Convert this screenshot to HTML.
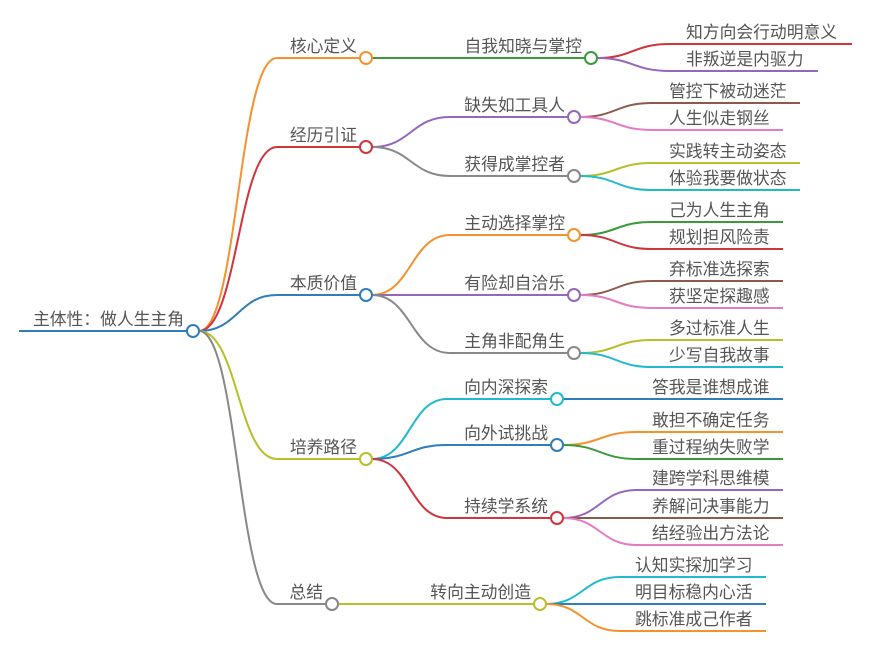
<!DOCTYPE html>
<html><head><meta charset="utf-8"><style>
body{margin:0;background:#fff;}
svg{display:block;}
text{font-family:"Liberation Sans","Noto Sans CJK SC",sans-serif;font-size:16.8px;fill:#555;}
path{fill:none;stroke-width:2;}
circle{fill:#fff;stroke-width:2;}
</style></head><body>
<svg width="871" height="655" viewBox="0 0 871 655">
<!-- root -->
<path d="M19 331 H187" stroke="#2f7dba" stroke-width="3"/>
<text x="184" y="325" text-anchor="end">主体性：做人生主角</text>
<!-- level1 -->
<path d="M199 331 C238 331 238 58 277 58 H360" stroke="#f5922f"/>
<path d="M199 331 C238 331 238 147 277 147 H360" stroke="#d0343c"/>
<path d="M199 331 C238 331 238 295 277 295 H360" stroke="#2f7dba"/>
<path d="M199 331 C238 331 238 459 277 459 H360" stroke="#b8bf2a"/>
<path d="M199 331 C238 331 238 604 277 604 H326" stroke="#888"/>
<circle cx="193" cy="331" r="6" stroke="#2f7dba"/>
<text x="357" y="52" text-anchor="end">核心定义</text>
<text x="357" y="141" text-anchor="end">经历引证</text>
<text x="357" y="289" text-anchor="end">本质价值</text>
<text x="357" y="453" text-anchor="end">培养路径</text>
<text x="323" y="598" text-anchor="end">总结</text>
<!-- level2 -->
<path d="M372 58 H585" stroke="#3a9a3a"/>
<path d="M372 147 C411 147 411 117 450 117 H568" stroke="#9467bd"/>
<path d="M372 147 C411 147 411 176 450 176 H568" stroke="#888"/>
<path d="M372 295 C411 295 411 235 450 235 H568" stroke="#f5922f"/>
<path d="M372 295 H568" stroke="#9467bd"/>
<path d="M372 295 C411 295 411 353 450 353 H568" stroke="#888"/>
<path d="M372 459 C410 459 410 399 447 399 H551" stroke="#1fbbcc"/>
<path d="M372 459 C410 459 410 445 447 445 H551" stroke="#2f7dba"/>
<path d="M372 459 C410 459 410 518 447 518 H551" stroke="#d0343c"/>
<path d="M338 604 H534" stroke="#b8bf2a"/>
<circle cx="366" cy="58" r="6" stroke="#f5922f"/>
<circle cx="366" cy="147" r="6" stroke="#d0343c"/>
<circle cx="366" cy="295" r="6" stroke="#2f7dba"/>
<circle cx="366" cy="459" r="6" stroke="#b8bf2a"/>
<circle cx="332" cy="604" r="6" stroke="#888"/>
<text x="582" y="52" text-anchor="end">自我知晓与掌控</text>
<text x="565" y="111" text-anchor="end">缺失如工具人</text>
<text x="565" y="170" text-anchor="end">获得成掌控者</text>
<text x="565" y="229" text-anchor="end">主动选择掌控</text>
<text x="565" y="289" text-anchor="end">有险却自洽乐</text>
<text x="565" y="347" text-anchor="end">主角非配角生</text>
<text x="548" y="393" text-anchor="end">向内深探索</text>
<text x="548" y="439" text-anchor="end">向外试挑战</text>
<text x="548" y="512" text-anchor="end">持续学系统</text>
<text x="531" y="598" text-anchor="end">转向主动创造</text>
<!-- level3 -->
<path d="M597 58 C633 58 633 44 670 44 H852" stroke="#d0343c"/>
<path d="M597 58 C633 58 633 71 670 71 H818" stroke="#9467bd"/>
<path d="M580 117 C616 117 616 103 652 103 H800" stroke="#8c5a4b"/>
<path d="M580 117 C616 117 616 130 652 130 H783" stroke="#e47cc4"/>
<path d="M580 176 C616 176 616 163 652 163 H800" stroke="#b8bf2a"/>
<path d="M580 176 C616 176 616 190 652 190 H800" stroke="#1fbbcc"/>
<path d="M580 235 C616 235 616 222 652 222 H783" stroke="#3a9a3a"/>
<path d="M580 235 C616 235 616 249 652 249 H783" stroke="#d0343c"/>
<path d="M580 295 C616 295 616 281 652 281 H783" stroke="#8c5a4b"/>
<path d="M580 295 C616 295 616 308 652 308 H783" stroke="#e47cc4"/>
<path d="M580 353 C616 353 616 340 652 340 H783" stroke="#b8bf2a"/>
<path d="M580 353 C616 353 616 367 652 367 H783" stroke="#1fbbcc"/>
<path d="M563 399 H783" stroke="#2f7dba"/>
<path d="M563 445 C600 445 600 432 637 432 H783" stroke="#f5922f"/>
<path d="M563 445 C600 445 600 459 637 459 H783" stroke="#3a9a3a"/>
<path d="M563 518 C600 518 600 490 637 490 H783" stroke="#9467bd"/>
<path d="M563 518 H783" stroke="#8c5a4b"/>
<path d="M563 518 C600 518 600 545 637 545 H783" stroke="#e47cc4"/>
<path d="M546 604 C583 604 583 577 620 577 H766" stroke="#1fbbcc"/>
<path d="M546 604 H766" stroke="#2f7dba"/>
<path d="M546 604 C583 604 583 631 620 631 H766" stroke="#f5922f"/>
<circle cx="591" cy="58" r="6" stroke="#3a9a3a"/>
<circle cx="574" cy="117" r="6" stroke="#9467bd"/>
<circle cx="574" cy="176" r="6" stroke="#888"/>
<circle cx="574" cy="235" r="6" stroke="#f5922f"/>
<circle cx="574" cy="295" r="6" stroke="#9467bd"/>
<circle cx="574" cy="353" r="6" stroke="#888"/>
<circle cx="557" cy="399" r="6" stroke="#1fbbcc"/>
<circle cx="557" cy="445" r="6" stroke="#2f7dba"/>
<circle cx="557" cy="518" r="6" stroke="#d0343c"/>
<circle cx="540" cy="604" r="6" stroke="#b8bf2a"/>
<text x="686" y="38">知方向会行动明意义</text>
<text x="686" y="65">非叛逆是内驱力</text>
<text x="669" y="97">管控下被动迷茫</text>
<text x="669" y="124">人生似走钢丝</text>
<text x="669" y="157">实践转主动姿态</text>
<text x="669" y="184">体验我要做状态</text>
<text x="669" y="216">己为人生主角</text>
<text x="669" y="243">规划担风险责</text>
<text x="669" y="275">弃标准选探索</text>
<text x="669" y="302">获坚定探趣感</text>
<text x="669" y="334">多过标准人生</text>
<text x="669" y="361">少写自我故事</text>
<text x="652" y="393">答我是谁想成谁</text>
<text x="652" y="426">敢担不确定任务</text>
<text x="652" y="453">重过程纳失败学</text>
<text x="652" y="484">建跨学科思维模</text>
<text x="652" y="512">养解问决事能力</text>
<text x="652" y="539">结经验出方法论</text>
<text x="635" y="571">认知实探加学习</text>
<text x="635" y="598">明目标稳内心活</text>
<text x="635" y="625">跳标准成己作者</text>
</svg>
</body></html>
